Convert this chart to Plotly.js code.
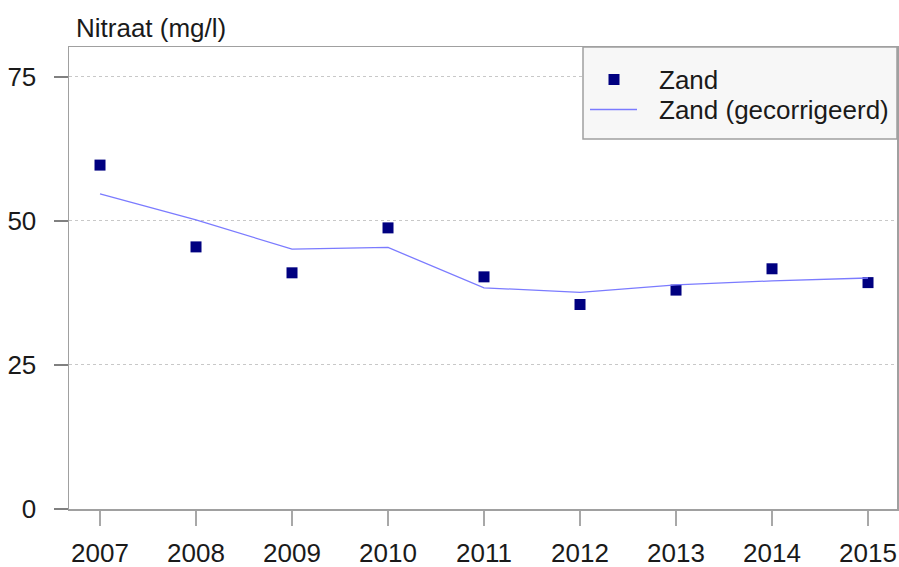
<!DOCTYPE html>
<html>
<head>
<meta charset="utf-8">
<script src="https://cdn.plot.ly/plotly-3.0.1.min.js"></script>
<style>html,body{margin:0;padding:0;background:#fff;}#chart{width:899px;height:567px;}</style>
</head>
<body>
<div id="chart"></div>
<script>
var years = [2007, 2008, 2009, 2010, 2011, 2012, 2013, 2014, 2015];
var zand = [59.7, 45.5, 41.0, 48.8, 40.3, 35.5, 38.0, 41.7, 39.3];
var zandGecorrigeerd = [54.7, 50.2, 45.1, 45.4, 38.4, 37.6, 38.9, 39.6, 40.1];
var yTicks = [0, 25, 50, 75];
var seriesNames = ['Zand', 'Zand (gecorrigeerd)'];
var yTitle = 'Nitraat (mg/l)';

var FONT = '"Liberation Sans", Arial, sans-serif';
var MARKER_COLOR = '#000080';
var LINE_COLOR = '#7b7bff';

var traces = [
  {
    x: years, y: zand, name: seriesNames[0], type: 'scatter', mode: 'markers',
    marker: {symbol: 'square', size: 11, color: MARKER_COLOR}
  },
  {
    x: years, y: zandGecorrigeerd, name: seriesNames[1], type: 'scatter', mode: 'lines',
    line: {color: LINE_COLOR, width: 1.3}
  }
];

// plot area in pixels: left 69, right 897, top 47, bottom 509
function px2x(px) { return (px - 69) / 828; }
function py2y(py) { return (509 - py) / 462; }

var layout = {
  width: 899, height: 567,
  margin: {l: 69, r: 2, t: 47, b: 58, pad: 0},
  paper_bgcolor: '#ffffff', plot_bgcolor: '#ffffff',
  font: {family: FONT, size: 26, color: '#1a1a1a'},
  showlegend: false,
  xaxis: {
    range: [2006.677, 2015.302], tickvals: years, ticktext: years.map(String),
    showgrid: false, zeroline: false,
    showline: true, mirror: true, linecolor: '#a0a0a0', linewidth: 1.5,
    ticks: 'outside', ticklen: 15, tickwidth: 1.5, tickcolor: '#a8a8a8',
    ticklabelstandoff: 5,
    tickfont: {family: FONT, size: 26, color: '#1a1a1a'}
  },
  yaxis: {
    range: [0, 80.2], tickvals: yTicks, ticktext: yTicks.map(String),
    showgrid: true, gridcolor: '#c8c8c8', griddash: 'dot', gridwidth: 1,
    zeroline: false,
    showline: true, mirror: true, linecolor: '#a0a0a0', linewidth: 1.5,
    ticks: 'outside', ticklen: 14, tickwidth: 1.5, tickcolor: '#808080',
    ticklabelstandoff: 12,
    tickfont: {family: FONT, size: 26, color: '#1a1a1a'}
  },
  shapes: [
    // legend box
    {type: 'rect', xref: 'paper', yref: 'paper', x0: px2x(583), x1: 1, y0: py2y(139), y1: 1,
     fillcolor: '#f7f7f7', line: {color: '#a0a0a0', width: 1.5}, layer: 'above'},
    // legend marker key
    {type: 'rect', xref: 'paper', yref: 'paper', x0: px2x(608.5), x1: px2x(619.5), y0: py2y(85), y1: py2y(74),
     fillcolor: MARKER_COLOR, line: {width: 0}, layer: 'above'},
    // legend line key
    {type: 'line', xref: 'paper', yref: 'paper', x0: px2x(590), x1: px2x(637), y0: py2y(109.5), y1: py2y(109.5),
     line: {color: LINE_COLOR, width: 1.3}, layer: 'above'}
  ],
  annotations: [
    {text: yTitle, xref: 'paper', yref: 'paper', x: px2x(74), y: 1, xanchor: 'left', yanchor: 'bottom',
     yshift: 2, showarrow: false, font: {family: FONT, size: 26, color: '#1a1a1a'}},
    {text: seriesNames[0], xref: 'paper', yref: 'paper', x: px2x(657), y: py2y(80), xanchor: 'left', yanchor: 'middle',
     showarrow: false, font: {family: FONT, size: 26, color: '#1a1a1a'}},
    {text: seriesNames[1], xref: 'paper', yref: 'paper', x: px2x(657), y: py2y(110), xanchor: 'left', yanchor: 'middle',
     showarrow: false, font: {family: FONT, size: 26, color: '#1a1a1a'}}
  ]
};

Plotly.newPlot('chart', traces, layout, {displayModeBar: false, staticPlot: true});
</script>
</body>
</html>
